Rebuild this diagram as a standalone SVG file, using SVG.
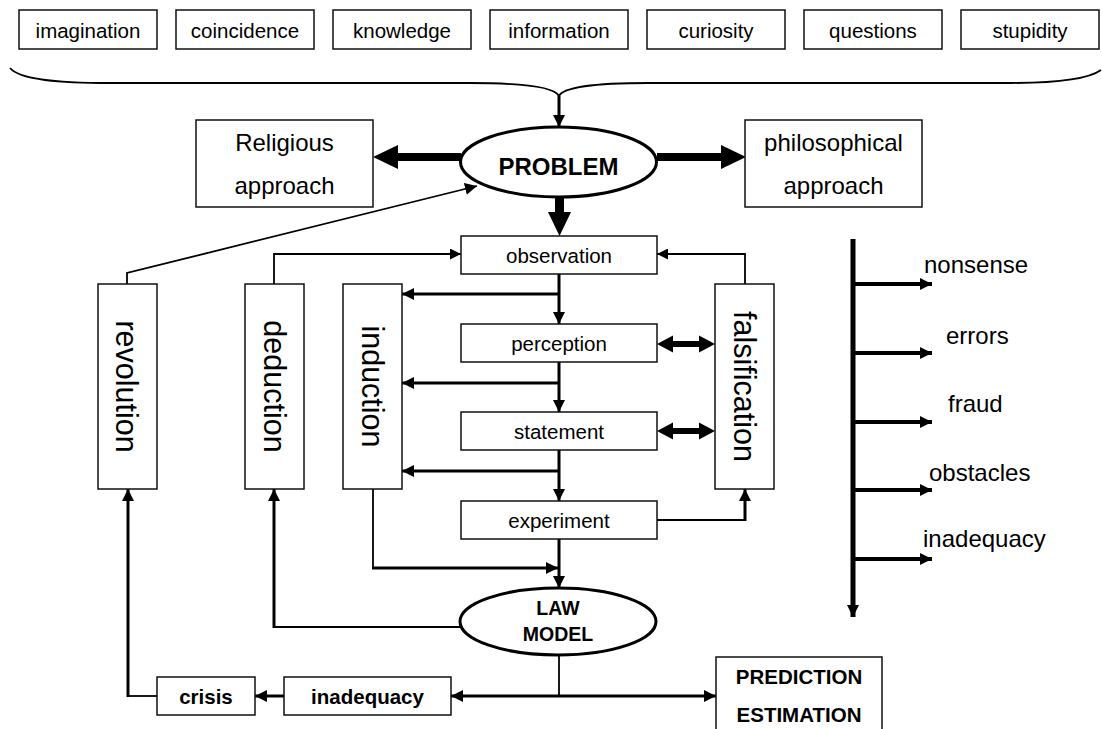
<svg xmlns="http://www.w3.org/2000/svg" width="1102" height="729" viewBox="0 0 1102 729">
<style>
text{font-family:"Liberation Sans",Arial,Helvetica,sans-serif;fill:#000}
.box{fill:#fff;stroke:#111;stroke-width:1.5}
.ell{fill:#fff;stroke:#000;stroke-width:3}
.t20{font-size:20.5px;text-anchor:middle}
.t24{font-size:24px;text-anchor:middle}
.tb{font-size:20.5px;font-weight:bold;text-anchor:middle}
.tv{font-size:30.5px;text-anchor:middle}
.tl{font-size:24px}
.ln{fill:none;stroke:#000;stroke-width:3}
.thin{fill:none;stroke:#000;stroke-width:1.8}
.solid{fill:#000;stroke:none}
</style>
<defs>
<marker id="ah" markerUnits="userSpaceOnUse" markerWidth="12" markerHeight="12" refX="12" refY="6" orient="auto">
<path d="M0,0 L12,6 L0,12 z" fill="#000"/>
</marker>
<marker id="ahs" markerUnits="userSpaceOnUse" markerWidth="11" markerHeight="11" refX="11" refY="5.5" orient="auto">
<path d="M0,0 L11,5.5 L0,11 z" fill="#000"/>
</marker>
</defs>

<g id="connectors">
<path class="thin" d="M10,68 C20,80 60,83 110,83 L470,83 C530,83 555,88 559,96 C563,88 588,83 648,83 L1010,83 C1060,83 1090,78 1101,70"/>
<line class="ln" x1="559" y1="96" x2="559" y2="127" marker-end="url(#ah)"/>
<polygon class="solid" points="461,153 398,153 398,145 373,157 398,169 398,161 461,161"/>
<polygon class="solid" points="657,153 721,153 721,145 746,157 721,169 721,161 657,161"/>
<polygon class="solid" points="555,197 564,197 564,212 571,212 559.5,236 548,212 555,212"/>
<line class="ln" x1="559" y1="274" x2="559" y2="324" marker-end="url(#ah)"/>
<line class="ln" x1="559" y1="362" x2="559" y2="412" marker-end="url(#ah)"/>
<line class="ln" x1="559" y1="450" x2="559" y2="501" marker-end="url(#ah)"/>
<line class="ln" x1="559" y1="539" x2="559" y2="588" marker-end="url(#ah)"/>
<line class="ln" x1="559" y1="294" x2="402" y2="294" marker-end="url(#ah)"/>
<line class="ln" x1="559" y1="383" x2="402" y2="383" marker-end="url(#ah)"/>
<line class="ln" x1="559" y1="471" x2="402" y2="471" marker-end="url(#ah)"/>
<polyline class="thin" points="274,284 274,254 461,254" marker-end="url(#ahs)"/>
<polyline class="thin" points="745,284 745,254 657,254" marker-end="url(#ahs)"/>
<polyline class="thin" points="127,284 127,273 477,186" marker-end="url(#ah)"/>
<polygon class="solid" points="657,344 673,335.5 673,341 699,341 699,335.5 715,344 699,352.5 699,347 673,347 673,352.5"/>
<polygon class="solid" points="657,431 673,422.5 673,428 699,428 699,422.5 715,431 699,439.5 699,434 673,434 673,439.5"/>
<polyline class="thin" points="657,520 745,520"/>
<line class="ln" x1="745" y1="521" x2="745" y2="489" marker-end="url(#ah)"/>
<polyline class="thin" points="373,489 373,568"/>
<line class="ln" x1="372" y1="568" x2="558" y2="568" marker-end="url(#ah)"/>
<polyline class="thin" points="460,627 274,627"/>
<line class="ln" x1="274" y1="628" x2="274" y2="489" marker-end="url(#ah)"/>
<line class="thin" x1="559" y1="655" x2="559" y2="696"/>
<line class="ln" x1="559" y1="696" x2="451" y2="696" marker-end="url(#ah)"/>
<line class="ln" x1="559" y1="696" x2="716" y2="696" marker-end="url(#ah)"/>
<line class="ln" x1="284" y1="696" x2="255" y2="696" marker-end="url(#ah)"/>
<polyline class="thin" points="157,696 128,696"/>
<line class="ln" x1="128" y1="697" x2="128" y2="489" marker-end="url(#ah)"/>
<line x1="853" y1="239" x2="853" y2="617" stroke="#000" stroke-width="5" marker-end="url(#ah)"/>
<line x1="853" y1="284" x2="932" y2="284" stroke="#000" stroke-width="4" marker-end="url(#ah)"/>
<line x1="853" y1="353" x2="932" y2="353" stroke="#000" stroke-width="4" marker-end="url(#ah)"/>
<line x1="853" y1="422" x2="932" y2="422" stroke="#000" stroke-width="4" marker-end="url(#ah)"/>
<line x1="853" y1="490" x2="932" y2="490" stroke="#000" stroke-width="4" marker-end="url(#ah)"/>
<line x1="853" y1="559" x2="932" y2="559" stroke="#000" stroke-width="4" marker-end="url(#ah)"/>
</g>

<g id="n-imagination"><rect class="box" x="19" y="10" width="138" height="39"/><text class="t20" x="88" y="37.5">imagination</text></g>
<g id="n-coincidence"><rect class="box" x="176" y="10" width="138" height="39"/><text class="t20" x="245" y="37.5">coincidence</text></g>
<g id="n-knowledge"><rect class="box" x="333" y="10" width="138" height="39"/><text class="t20" x="402" y="37.5">knowledge</text></g>
<g id="n-information"><rect class="box" x="490" y="10" width="138" height="39"/><text class="t20" x="559" y="37.5">information</text></g>
<g id="n-curiosity"><rect class="box" x="647" y="10" width="138" height="39"/><text class="t20" x="716" y="37.5">curiosity</text></g>
<g id="n-questions"><rect class="box" x="804" y="10" width="138" height="39"/><text class="t20" x="873" y="37.5">questions</text></g>
<g id="n-stupidity"><rect class="box" x="961" y="10" width="138" height="39"/><text class="t20" x="1030" y="37.5">stupidity</text></g>

<g id="n-problem"><ellipse class="ell" cx="558.5" cy="162" rx="98" ry="35"/><text x="558.5" y="175" style="font-size:24px;font-weight:bold;text-anchor:middle">PROBLEM</text></g>
<g id="n-religious"><rect class="box" x="196" y="120" width="177" height="87"/><text class="t24" x="284.5" y="151">Religious</text><text class="t24" x="284.5" y="194">approach</text></g>
<g id="n-philosophical"><rect class="box" x="745" y="120" width="177" height="87"/><text class="t24" x="833.5" y="151">philosophical</text><text class="t24" x="833.5" y="194">approach</text></g>

<g id="n-observation"><rect class="box" x="461" y="236" width="196" height="38"/><text class="t20" x="559" y="262.5">observation</text></g>
<g id="n-perception"><rect class="box" x="461" y="324" width="196" height="38"/><text class="t20" x="559" y="350.5">perception</text></g>
<g id="n-statement"><rect class="box" x="461" y="412" width="196" height="38"/><text class="t20" x="559" y="438.5">statement</text></g>
<g id="n-experiment"><rect class="box" x="461" y="501" width="196" height="38"/><text class="t20" x="559" y="527.5">experiment</text></g>

<g id="n-revolution"><rect class="box" x="98" y="284" width="59" height="205"/><text class="tv" transform="translate(127.5,386.5) rotate(90)" x="0" y="12">revolution</text></g>
<g id="n-deduction"><rect class="box" x="245" y="284" width="59" height="205"/><text class="tv" transform="translate(274.5,386.5) rotate(90)" x="0" y="11">deduction</text></g>
<g id="n-induction"><rect class="box" x="343" y="284" width="59" height="205"/><text class="tv" transform="translate(372.5,386.5) rotate(90)" x="0" y="11">induction</text></g>
<g id="n-falsification"><rect class="box" x="715" y="284" width="59" height="205"/><text class="tv" transform="translate(744.5,386.5) rotate(90)" x="0" y="11">falsification</text></g>

<g id="n-law"><ellipse class="ell" cx="558" cy="621.5" rx="98" ry="33.5"/><text x="558" y="615" style="font-size:19.5px;font-weight:bold;text-anchor:middle">LAW</text><text x="558" y="641" style="font-size:19.5px;font-weight:bold;text-anchor:middle">MODEL</text></g>

<g id="n-crisis"><rect class="box" x="157" y="677" width="98" height="38"/><text class="tb" x="206" y="703.5">crisis</text></g>
<g id="n-inadequacy"><rect class="box" x="284" y="677" width="167" height="38"/><text class="tb" x="367.5" y="703.5">inadequacy</text></g>
<g id="n-prediction"><rect class="box" x="716" y="657" width="166" height="90"/><text class="tb" x="799" y="684">PREDICTION</text><text class="tb" x="799" y="722">ESTIMATION</text></g>

<g id="n-ladder-labels">
<text class="tl" x="924" y="273">nonsense</text>
<text class="tl" x="946" y="344">errors</text>
<text class="tl" x="948" y="412">fraud</text>
<text class="tl" x="929" y="481">obstacles</text>
<text class="tl" x="923" y="547">inadequacy</text>
</g>
</svg>
